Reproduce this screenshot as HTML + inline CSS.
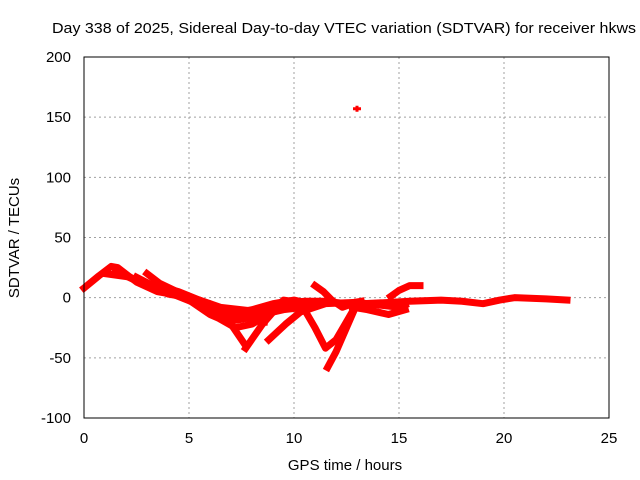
<!DOCTYPE html>
<html><head><meta charset="utf-8"><style>
body{margin:0;background:#fff;}
svg{display:block;font-family:"Liberation Sans",sans-serif;font-size:14px;}
</style></head><body>
<svg id="chart" width="640" height="480" viewBox="0 0 640 480">
<rect width="640" height="480" fill="#fff"/>
<text x="52" y="33" textLength="584" lengthAdjust="spacingAndGlyphs" font-size="15">Day 338 of 2025, Sidereal Day-to-day VTEC variation (SDTVAR) for receiver hkws</text>
<g id="grid"></g>
<g id="ticks"></g>
<g id="series"></g>
<rect x="84" y="57" width="525" height="361" fill="none" stroke="#000" stroke-width="1"/>
<text x="345" y="470" text-anchor="middle" font-size="15">GPS time / hours</text>
<text transform="translate(19,238) rotate(-90)" text-anchor="middle" font-size="15">SDTVAR / TECUs</text>
</svg>
<script>
const xTicks=[0,5,10,15,20,25];
const yTicks=[-100,-50,0,50,100,150,200];
const trackA=[[0,8],[0.7,18],[1.3,26],[1.6,25],[2.5,13],[3.5,5],[4.5,2],[5.5,-2],[6.5,-8],[7.5,-10],[8.5,-12],[9.5,-5],[10.5,-3],[11.5,-3],[12.5,-5],[13.2,-3]];
const trackB=[[1.5,22],[3,10],[4,3],[5,0],[6,-5],[7,-15],[8,-18],[8.6,-20]];
const trackC=[[2,18],[3,12],[4.5,5],[5.5,-2],[6.3,-12],[7,-22],[7.7,-40]];
const trackC2=[[7.7,-42],[8.5,-22],[9.5,-2],[10.3,-4]];
const trackC3=[[8.8,-35],[9.6,-22],[10.3,-12],[11.5,-5],[12.8,-4]];
const trackD=[[3,20],[3.6,12],[4.8,2],[5.8,-5],[6.8,-14],[8,-10],[9,-5],[10,-2],[11,-6]];
const trackE=[[11,10],[11.4,5],[11.8,-2],[12.3,-8],[12.8,-5]];
const trackF=[[10.5,-10],[11,-25],[11.5,-42],[12,-35],[12.5,-20],[13,-5]];
const trackG=[[11.6,-58],[12,-45],[12.5,-25],[13,-5]];
const trackH=[[12.8,-8],[13.5,-10],[14.5,-14],[15.3,-10]];
const trackH2=[[13,-4],[14,-6],[15,-8],[15.3,-6]];
const trackI=[[14.6,1],[15,6],[15.5,10],[16,10]];
const trackJ=[[13.3,-5],[14.5,-4],[15.5,-3],[17,-2],[18,-3],[19,-5],[19.8,-2],[20.5,0],[22,-1],[23,-2]];
const trackK=[[1,20],[2.2,17],[3.2,8],[4.2,4],[5.2,-1],[6,-10],[6.8,-18],[7.5,-15],[8.5,-10],[9.5,-8]];
const trackL=[[2.5,17],[3.5,8],[4.5,1],[5.5,-6],[6.5,-18],[7.2,-25],[8,-22],[9,-12],[10,-6]];
const trackM=[[4,5],[5,-2],[6,-14],[6.8,-20],[7.5,-18],[8.5,-14],[9.5,-10],[10.5,-8],[11.2,-4]];
const outlier=[[13,157]];
const tracks=[trackA,trackB,trackC,trackC2,trackC3,trackD,trackE,trackF,trackG,trackH,trackH2,trackI,trackJ,trackK,trackL,trackM];

const X0=84,X1=609,Y0=418,Y1=57;
function xs(h){return X0+(h-0)/25*(X1-X0);}
function ys(v){return Y0-(v+100)/300*(Y0-Y1);}
const NS="http://www.w3.org/2000/svg";
function mk(t,a){const e=document.createElementNS(NS,t);for(const k in a)e.setAttribute(k,a[k]);return e;}
const grid=document.getElementById('grid'),ticks=document.getElementById('ticks'),series=document.getElementById('series');
xTicks.forEach(t=>{
 const x=xs(t);
 if(t>0&&t<25){const l=mk('line',{x1:x,x2:x,y1:Y1,y2:Y0,stroke:'#a0a0a0','stroke-dasharray':'2,3'});
 
 
 grid.appendChild(l);}
 const tx=mk('text',{x:x,y:443,'text-anchor':'middle','font-size':15});tx.textContent=t;
 
 
 ticks.appendChild(tx);
});
yTicks.forEach(t=>{
 const y=ys(t);
 if(t>-100&&t<200){const l=mk('line',{x1:X0,x2:X1,y1:y,y2:y,stroke:'#a0a0a0','stroke-dasharray':'2,3'});
 
 
 grid.appendChild(l);}
 const tx=mk('text',{x:71,y:y+5,'text-anchor':'end','font-size':15});tx.textContent=t;
 
 
 ticks.appendChild(tx);
});
tracks.forEach(tr=>{
 const p=mk('polyline',{points:tr.map(d=>xs(d[0])+','+ys(d[1])).join(' '),fill:'none',stroke:'#ff0000','stroke-width':7,'stroke-linejoin':'round','stroke-linecap':'square'});
 
 
 series.appendChild(p);
});
outlier.forEach(d=>{
 const p=mk('path',{d:`M${xs(d[0])-4},${ys(d[1])}h8M${xs(d[0])},${ys(d[1])-3}v6`,stroke:'#ff0000','stroke-width':3});
 
 
 series.appendChild(p);
});
</script>
</body></html>
